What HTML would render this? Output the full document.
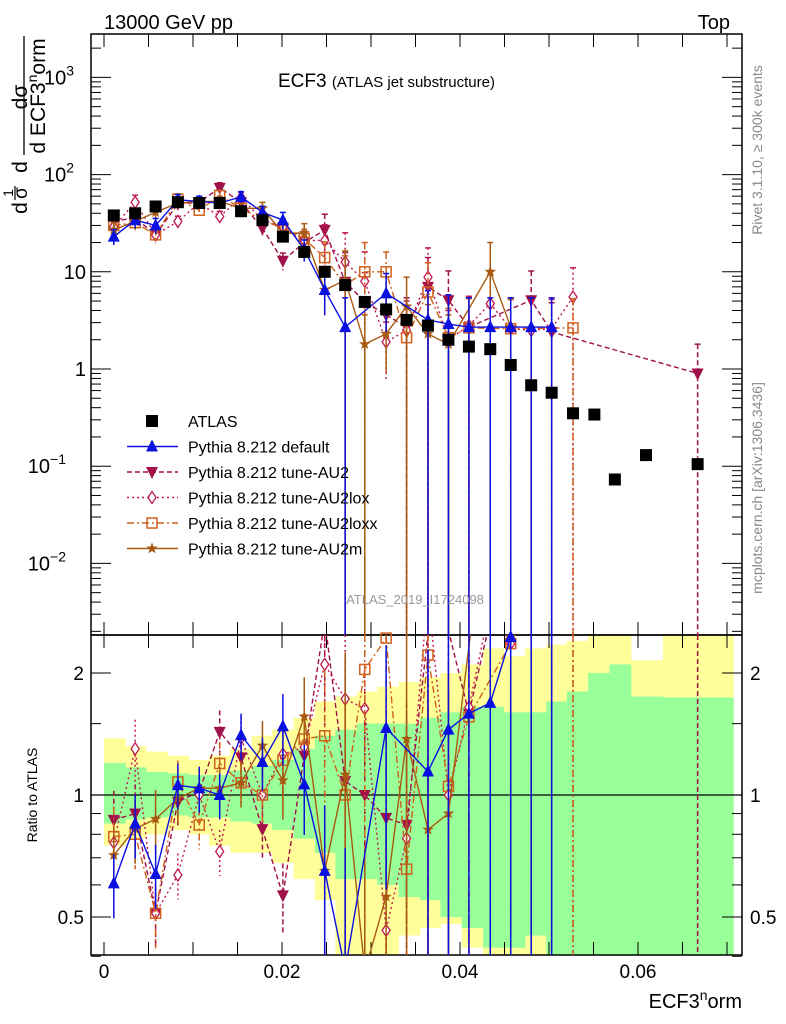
<!DOCTYPE html>
<html><head><meta charset="utf-8"><style>
body{margin:0;background:#fff;}
svg{display:block;font-family:"Liberation Sans",sans-serif;}
</style></head><body>
<svg id="chart" width="786" height="1024" viewBox="0 0 786 1024" xmlns="http://www.w3.org/2000/svg">
<g id="bands"></g>
<g id="axes"></g>
<g id="series"></g>
<text x="104" y="29" font-size="20">13000 GeV pp</text>
<text x="730" y="29" font-size="20" text-anchor="end">Top</text>
<text x="278" y="87" font-size="19">ECF3 <tspan font-size="15">(ATLAS jet substructure)</tspan></text>
<text x="415" y="604" font-size="13" fill="#999" text-anchor="middle">ATLAS_2019_I1724098</text>
<text transform="translate(762,150) rotate(-90)" font-size="14" fill="#888" text-anchor="middle">Rivet 3.1.10, ≥ 300k events</text>
<text transform="translate(762,488) rotate(-90)" font-size="14" fill="#888" text-anchor="middle">mcplots.cern.ch [arXiv:1306.3436]</text>
<g>
<text transform="translate(27,97) rotate(-90)" text-anchor="middle" font-size="21">dσ</text>
<line x1="24" y1="36" x2="24" y2="155" stroke="#000" stroke-width="1.3"/>
<text transform="translate(45,96) rotate(-90)" text-anchor="middle" font-size="21">d ECF3<tspan dy="-8" font-size="14">n</tspan><tspan dy="8">orm</tspan></text>
<text transform="translate(27,167) rotate(-90)" text-anchor="middle" font-size="21">d</text>
<text transform="translate(13,193) rotate(-90)" text-anchor="middle" font-size="14">1</text>
<line x1="15" y1="186" x2="15" y2="200" stroke="#000" stroke-width="1.2"/>
<text transform="translate(27,193) rotate(-90)" text-anchor="middle" font-size="19">σ</text>
<text transform="translate(27,208) rotate(-90)" text-anchor="middle" font-size="21">d</text>
</g>
<text transform="translate(37,795) rotate(-90)" font-size="14" text-anchor="middle">Ratio to ATLAS</text>
<text x="742" y="1008" font-size="20" text-anchor="end">ECF3<tspan dy="-8" font-size="14">n</tspan><tspan dy="8">orm</tspan></text>
<g id="legend"></g>
</svg>
<script>
const xVals=[0.0011,0.0035,0.0058,0.0083,0.0107,0.0130,0.0154,0.0178,0.0201,0.0225,0.0248,0.0271,0.0293,0.0317,0.0340,0.0364,0.0387,0.0410,0.0434,0.0457,0.0480,0.0503,0.0527,0.0551,0.0574,0.0609,0.0667];
const atlasVals=[38,40,47,52,51,51,42,34,23,16,10,7.3,4.9,4.1,3.2,2.8,2.0,1.7,1.6,1.1,0.68,0.57,0.35,0.34,0.073,0.13,0.105];
const defaultVals=[23,34,30,55,53,51,59,41,34,17,6.5,2.7,null,6.0,null,3.2,2.9,2.7,2.7,2.7,2.7,2.7];
const au2Vals=[33,36,24,50,52,73,52,28,13,20,27,7.9,4.9,3.6,2.7,7,5.1,2.7,null,null,5.1,2.4,null,null,null,null,0.9];
const au2loxVals=[29,52,24,33,51,37,58,34,29,21,21,12.6,8,1.9,2.5,8.8,2.0,2.8,4.7,2.6,2.5,2.6,5.5];
const au2loxxVals=[30,32,24,56,43,61,45,34,28,22,14,7.3,10,10,2.1,6.2,2.1,2.65,null,2.6,null,null,2.65];
const au2mVals=[27,33,41,51,53,53,45,45,25,25,6.5,8.2,1.8,2.3,4.4,2.3,1.8,null,10,2.7];
const mcRelErr=[0.18,0.18,0.18,0.13,0.13,0.13,0.13,0.15,0.2,0.25,0.45,1,1,0.6,1,1,1,1,1,1,1,1,1,1,1,1,1];
const binEdges=[0,0.0024,0.0047,0.0071,0.0095,0.0118,0.0142,0.0166,0.0189,0.0213,0.0237,0.026,0.0284,0.0307,0.0331,0.0355,0.0378,0.0402,0.0426,0.0449,0.0473,0.0497,0.052,0.0544,0.0568,0.0592,0.0628,0.0707];
const yellowHi=[1.38,1.32,1.28,1.25,1.22,1.25,1.3,1.4,1.45,1.55,1.7,1.75,1.8,1.85,1.9,1.95,2.0,2.1,2.3,2.2,2.3,2.35,2.4,2.6,2.6,2.15,2.6];
const yellowLo=[0.75,0.78,0.8,0.82,0.8,0.75,0.72,0.72,0.68,0.62,0.55,0.4,0.38,0.4,0.45,0.47,0.48,0.42,0.4,0.38,0.38,0.42,0.4,0.38,0.3,0.3,0.3];
const greenHi=[1.2,1.17,1.14,1.13,1.12,1.12,1.15,1.18,1.22,1.3,1.4,1.45,1.5,1.5,1.5,1.55,1.6,1.65,1.65,1.6,1.6,1.7,1.8,2.0,2.1,1.75,1.74];
const greenLo=[0.85,0.87,0.88,0.89,0.88,0.88,0.86,0.85,0.82,0.78,0.72,0.62,0.62,0.6,0.56,0.55,0.5,0.47,0.42,0.42,0.45,0.4,0.35,0.35,0.3,0.3,0.3];
const xTicks=[0,0.02,0.04,0.06];
const xTickLabels=["0","0.02","0.04","0.06"];

const NS="http://www.w3.org/2000/svg";
const L=91,R=742,T=34,M=635,B=955;
const X=v=>104+v*8900;
const Y=v=>369-97.2*Math.log10(v);
const RY=r=>795-122*Math.log2(r);
const clamp=(y,a,b)=>Math.max(a,Math.min(b,y));
function mk(tag,attrs,parent){const e=document.createElementNS(NS,tag);for(const k in attrs)e.setAttribute(k,attrs[k]);parent.appendChild(e);return e;}
const bands=document.getElementById('bands'),axes=document.getElementById('axes'),ser=document.getElementById('series'),leg=document.getElementById('legend');

for(let i=0;i<yellowHi.length;i++){
  const x0=X(binEdges[i]),x1=Math.min(R,X(binEdges[i+1]));
  const a=clamp(RY(yellowHi[i]),M,B),b=clamp(RY(yellowLo[i]),M,B);
  const yl=mk('rect',{x:x0,y:a,width:x1-x0+0.5,height:b-a,fill:'#ffff99'},bands);
  
  
}
for(let i=0;i<greenHi.length;i++){
  const x0=X(binEdges[i]),x1=Math.min(R,X(binEdges[i+1]));
  const a=clamp(RY(greenHi[i]),M,B),b=clamp(RY(greenLo[i]),M,B);
  const g=mk('rect',{x:x0,y:a,width:x1-x0+0.5,height:b-a,fill:'#99ff99'},bands);
  
  
}
mk('rect',{x:L,y:T,width:R-L,height:M-T,fill:'none',stroke:'#000','stroke-width':1.5},axes);
mk('rect',{x:L,y:M,width:R-L,height:B-M,fill:'none',stroke:'#000','stroke-width':1.5},axes);
mk('line',{x1:L,y1:RY(1),x2:R,y2:RY(1),stroke:'#000','stroke-width':1.2},axes);
for(let k=0;k<=14;k++){const v=k*0.005,x=X(v);if(x>R)break;
  for(const [y0,d] of [[T,1],[M,-1],[M,1],[B,-1]]) mk('line',{x1:x,y1:y0,x2:x,y2:y0+d*13,stroke:'#000','stroke-width':1},axes);}
xTicks.forEach((v,i)=>{const t=mk('text',{x:X(v),y:978,'font-size':19,'text-anchor':'middle'},axes);t.textContent=xTickLabels[i];
  
  });
for(let e=-3;e<=3;e++){for(let m=1;m<=9;m++){const v=m*Math.pow(10,e),y=Y(v);if(y<T||y>M)continue;const len=m==1?20:10;
  mk('line',{x1:L,y1:y,x2:L+len,y2:y,stroke:'#000'},axes);mk('line',{x1:R,y1:y,x2:R-len,y2:y,stroke:'#000'},axes);}}
const yl=[[3,'10','3'],[2,'10','2'],[1,'10',''],[0,'1',''],[-1,'10','−1'],[-2,'10','−2']];
yl.forEach(([e,b,s])=>{const t=mk('text',{x:86,y:Y(Math.pow(10,e))+7,'font-size':20,'text-anchor':'end'},axes);
  
  
  if(s){t.setAttribute('x',86-(s.length>1?20:12));t.textContent=b;const sp=mk('tspan',{dy:-9,'font-size':14},t);sp.textContent=s;}else t.textContent=b;});
[0.4,0.5,0.6,0.7,0.8,0.9,1,1.5,2].forEach(r=>{const y=RY(r);const len=(r==0.5||r==1||r==2)?20:10;
  mk('line',{x1:L,y1:y,x2:L+len,y2:y,stroke:'#000'},axes);mk('line',{x1:R,y1:y,x2:R-len,y2:y,stroke:'#000'},axes);});
[['2',2],['1',1],['0.5',0.5]].forEach(([s,r])=>{for(const [x,a] of [[84,'end'],[750,'start']]){const t=mk('text',{x:x,y:RY(r)+7,'font-size':19,'text-anchor':a},axes);t.textContent=s;
  
  }});

function marker(g,type,x,y,c){
  if(type=='sq') mk('rect',{x:x-6,y:y-6,width:12,height:12,fill:'#000'},g);
  else if(type=='tri') mk('polygon',{points:`${x},${y-7} ${x-6},${y+5} ${x+6},${y+5}`,fill:c},g);
  else if(type=='tridn') mk('polygon',{points:`${x},${y+7} ${x-6},${y-5} ${x+6},${y-5}`,fill:c},g);
  else if(type=='dia') mk('polygon',{points:`${x},${y-6} ${x-4},${y} ${x},${y+6} ${x+4},${y}`,fill:'#fff',stroke:c,'stroke-width':1.3},g);
  else if(type=='osq') mk('rect',{x:x-5,y:y-5,width:10,height:10,fill:'none',stroke:c,'stroke-width':1.5},g);
  else if(type=='star'){let p=[];for(let k=0;k<10;k++){const r=k%2?2.5:6,a=-Math.PI/2+k*Math.PI/5;p.push((x+r*Math.cos(a)).toFixed(1)+','+(y+r*Math.sin(a)).toFixed(1));}mk('polygon',{points:p.join(' '),fill:c},g);}
}
function drawSeries(vals,name,color,dash,type){
  const g=mk('g',{},ser);
  
  
  const main=[],rat=[];
  vals.forEach((v,i)=>{if(v==null)return;const x=X(xVals[i]);main.push([x,Y(v)]);rat.push([x,RY(v/atlasVals[i])]);
    const e=mcRelErr[i];const lo=v*(1-e),hi=v*(1+e);
    const y1=Y(hi),y2=lo>0?Y(lo):M;
    mk('line',{x1:x,y1:clamp(y1,T,M),x2:x,y2:clamp(y2,T,M),stroke:color,'stroke-width':1.5,'stroke-dasharray':dash},g);
    mk('line',{x1:x-3,y1:y1,x2:x+3,y2:y1,stroke:color,'stroke-width':1.5},g);
    const r=v/atlasVals[i],ry1=RY(r*(1+e)),ry2=lo>0?RY(r*(1-e)):B;
    mk('line',{x1:x,y1:clamp(ry1,M,B),x2:x,y2:clamp(ry2,M,B),stroke:color,'stroke-width':1.5,'stroke-dasharray':dash},g);
  });
  mk('polyline',{points:main.map(p=>p.join(',')).join(' '),fill:'none',stroke:color,'stroke-width':1.4,'stroke-dasharray':dash},g);
  const cp=mk('clipPath',{id:'c'+name},g);mk('rect',{x:L,y:M,width:R-L,height:B-M},cp);
  mk('polyline',{points:rat.map(p=>p.join(',')).join(' '),fill:'none',stroke:color,'stroke-width':1.4,'stroke-dasharray':dash,'clip-path':`url(#c${name})`},g);
  main.forEach(p=>marker(g,type,p[0],p[1],color));
  rat.forEach(p=>{if(p[1]>M&&p[1]<B)marker(g,type,p[0],p[1],color);});
}
drawSeries(au2Vals,'series-au2','#a0104a','5,3','tridn');
drawSeries(au2loxVals,'series-au2lox','#c01850','2,3','dia');
drawSeries(au2loxxVals,'series-au2loxx','#d0601c','7,3,2,3','osq');
drawSeries(au2mVals,'series-au2m','#a85a10','none','star');
drawSeries(defaultVals,'series-default','#0a10e0','none','tri');
const ag=mk('g',{},ser);


atlasVals.forEach((v,i)=>marker(ag,'sq',X(xVals[i]),Y(v),'#000'));

const legItems=[['ATLAS','#000','none','sq'],['Pythia 8.212 default','#0a10e0','none','tri'],['Pythia 8.212 tune-AU2','#a0104a','5,3','tridn'],['Pythia 8.212 tune-AU2lox','#c01850','2,3','dia'],['Pythia 8.212 tune-AU2loxx','#d0601c','7,3,2,3','osq'],['Pythia 8.212 tune-AU2m','#a85a10','none','star']];
legItems.forEach((it,i)=>{const y=421+i*25.5;const g=mk('g',{},leg);
  
  
  if(i>0)mk('line',{x1:127,y1:y,x2:178,y2:y,stroke:it[1],'stroke-width':1.4,'stroke-dasharray':it[2]},g);
  marker(g,it[3],152,y,it[1]);
  const t=mk('text',{x:188,y:y+6,'font-size':16},g);t.textContent=it[0];});
</script>
</body></html>
